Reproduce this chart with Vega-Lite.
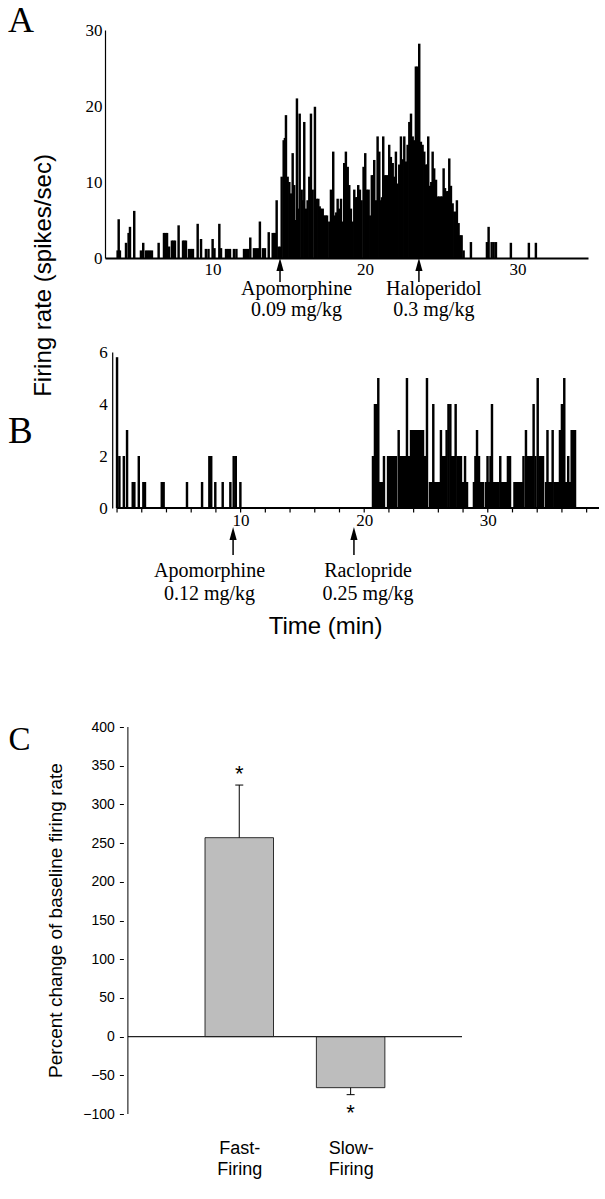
{
"$schema": "https://vega.github.io/schema/vega-lite/v6.json",
"autosize": {"type": "pad"},
"padding": {"left": 7, "top": 3, "right": 0, "bottom": 12},
"background": "white",
"spacing": 94,
"bounds": "flush",
"config": {"font": "Liberation Sans", "view": {"stroke": null}, "axis": {"grid": false, "domainColor": "black", "tickColor": "black", "labelColor": "black", "titleColor": "black", "labelFlush": false, "labelOverlap": false, "titleLimit": 1000}},
"datasets": {
"a": [
{"t":3.78,"r":1},{"t":3.85,"r":5.1},{"t":3.93,"r":1},{"t":4.33,"r":2},{"t":4.5,"r":3.3},{"t":4.59,"r":4.1},{"t":4.87,"r":6.2},{"t":5.31,"r":1},{"t":5.46,"r":2},{"t":5.64,"r":1},{"t":5.77,"r":1},{"t":5.9,"r":1},{"t":6.03,"r":1},{"t":6.47,"r":2},{"t":6.82,"r":3.3},{"t":6.92,"r":3.3},{"t":7.02,"r":3.3},{"t":7.15,"r":1.5},{"t":7.34,"r":2.3},{"t":7.44,"r":2.3},{"t":7.54,"r":2.3},{"t":7.78,"r":4.3},{"t":8.07,"r":2.3},{"t":8.16,"r":2.3},{"t":8.26,"r":2.3},{"t":8.46,"r":1.2},{"t":8.59,"r":1.2},{"t":8.72,"r":1.2},{"t":9.03,"r":4.5},{"t":9.25,"r":2.5},{"t":9.57,"r":1.2},{"t":9.74,"r":1.2},{"t":10.01,"r":2.5},{"t":10.13,"r":1.3},{"t":10.45,"r":4.5},{"t":10.56,"r":1.3},{"t":10.89,"r":1.2},{"t":11.02,"r":1.2},{"t":11.15,"r":1.2},{"t":11.41,"r":1.2},{"t":11.57,"r":1.2},{"t":12.07,"r":1.2},{"t":12.2,"r":1.2},{"t":12.33,"r":1.2},{"t":12.48,"r":2.7},{"t":12.72,"r":1.3},{"t":12.85,"r":1.3},{"t":12.98,"r":1.3},{"t":13.11,"r":4.8},{"t":13.31,"r":1.3},{"t":13.44,"r":1.3},{"t":13.69,"r":3.4},{"t":13.95,"r":3.3},{"t":14.03,"r":3.3},{"t":14.12,"r":3.3},{"t":14.21,"r":7.6},{"t":14.33,"r":1.5},{"t":14.43,"r":1.5},
{"t":14.54,"r":10.7},{"t":14.67,"r":15.5},{"t":14.75,"r":15.8},{"t":14.82,"r":18.8},{"t":14.93,"r":10.7},{"t":15.04,"r":10},{"t":15.15,"r":8.5},{"t":15.26,"r":13.8},{"t":15.36,"r":9.6},{"t":15.48,"r":5},{"t":15.54,"r":21},{"t":15.63,"r":6.5},{"t":15.72,"r":19},{"t":15.85,"r":9},{"t":15.91,"r":7.6},{"t":16.02,"r":17.9},{"t":16.13,"r":6.5},{"t":16.24,"r":7.6},{"t":16.35,"r":10.7},{"t":16.46,"r":19},{"t":16.57,"r":9},{"t":16.72,"r":19.9},{"t":16.83,"r":7.8},{"t":16.94,"r":7.8},{"t":17.03,"r":6.8},{"t":17.11,"r":6.5},{"t":17.23,"r":6.5},{"t":17.33,"r":5.6},{"t":17.42,"r":5.6},{"t":17.51,"r":5.6},{"t":17.66,"r":4.8},{"t":17.77,"r":9},{"t":17.92,"r":14},{"t":18.03,"r":5.6},{"t":18.12,"r":6},{"t":18.21,"r":7.8},{"t":18.31,"r":6.5},{"t":18.43,"r":7.8},{"t":18.54,"r":4.8},{"t":18.64,"r":12.5},{"t":18.75,"r":14},{"t":18.87,"r":12},{"t":18.97,"r":9.6},{"t":19.08,"r":6.5},{"t":19.19,"r":4.8},{"t":19.3,"r":9},{"t":19.41,"r":8},{"t":19.48,"r":8},{"t":19.56,"r":9.6},{"t":19.67,"r":9},{"t":19.78,"r":7.6},{"t":19.91,"r":12},{"t":20.02,"r":13.8},{"t":20.13,"r":9},{"t":20.24,"r":9},{"t":20.35,"r":5.6},{"t":20.45,"r":10.9},{"t":20.53,"r":10.9},{"t":20.61,"r":12.9},{"t":20.72,"r":7.6},{"t":20.83,"r":16},{"t":20.94,"r":14},{"t":21.05,"r":7.6},{"t":21.12,"r":8},{"t":21.2,"r":16},{"t":21.31,"r":10.9},{"t":21.4,"r":10.9},{"t":21.49,"r":10.9},{"t":21.59,"r":14.9},{"t":21.7,"r":13.3},{"t":21.82,"r":12.5},{"t":21.92,"r":10.7},{"t":22.03,"r":14},{"t":22.14,"r":9.8},{"t":22.25,"r":12.3},{"t":22.36,"r":16},{"t":22.47,"r":13},{"t":22.58,"r":16},{"t":22.69,"r":12.7},{"t":22.8,"r":14.9},{"t":22.91,"r":17.9},{"t":23.02,"r":19},{"t":23.13,"r":16},{"t":23.23,"r":15.5},{"t":23.34,"r":25.2},{"t":23.46,"r":25.2},{"t":23.56,"r":28.2},{"t":23.67,"r":15.3},{"t":23.78,"r":14.9},{"t":23.89,"r":14},{"t":24.0,"r":12.3},{"t":24.08,"r":12.3},{"t":24.15,"r":16},{"t":24.26,"r":9.5},{"t":24.35,"r":10},{"t":24.44,"r":14},{"t":24.54,"r":11.8},{"t":24.66,"r":10.3},{"t":24.77,"r":8.1},{"t":24.87,"r":8.1},{"t":24.98,"r":8.1},{"t":25.07,"r":8.1},{"t":25.16,"r":11.8},{"t":25.25,"r":9.2},{"t":25.38,"r":8.8},{"t":25.46,"r":8.8},{"t":25.53,"r":13.1},{"t":25.64,"r":9.5},{"t":25.75,"r":7.2},{"t":25.86,"r":6.1},{"t":25.95,"r":6.1},{"t":26.03,"r":7.6},{"t":26.14,"r":4.6},{"t":26.25,"r":3},{"t":26.34,"r":3},{"t":26.47,"r":1},{"t":26.95,"r":2.1},{"t":28.0,"r":2.1},{"t":28.11,"r":4.1},{"t":28.31,"r":2.1},{"t":28.44,"r":2.1},{"t":28.59,"r":2.1},{"t":29.57,"r":2},{"t":30.75,"r":2},{"t":31.21,"r":2}
],
"b": [
{"t":0.0,"r":5.8},{"t":0.19,"r":2},{"t":0.55,"r":2},{"t":0.81,"r":3},{"t":1.27,"r":1},{"t":1.4,"r":1},{"t":1.76,"r":2},{"t":2.13,"r":1},{"t":2.26,"r":1},{"t":3.62,"r":1},{"t":3.77,"r":1},{"t":5.66,"r":1},{"t":6.88,"r":1},{"t":7.47,"r":2},{"t":7.62,"r":2},{"t":7.95,"r":1},{"t":8.55,"r":1},{"t":9.17,"r":1},{"t":9.44,"r":2},{"t":9.61,"r":2},{"t":9.98,"r":1},
{"t":20.71,"r":2},{"t":20.87,"r":4},{"t":21.04,"r":4},{"t":21.14,"r":5},{"t":21.24,"r":1},{"t":21.36,"r":1},{"t":21.52,"r":1},{"t":21.6,"r":2},{"t":21.93,"r":2},{"t":22.09,"r":2},{"t":22.25,"r":2},{"t":22.41,"r":2},{"t":22.57,"r":2},{"t":22.79,"r":3},{"t":22.9,"r":2},{"t":23.06,"r":2},{"t":23.22,"r":2},{"t":23.3,"r":2},{"t":23.46,"r":5},{"t":23.62,"r":2},{"t":23.79,"r":3},{"t":23.95,"r":3},{"t":24.11,"r":3},{"t":24.27,"r":3},{"t":24.43,"r":3},{"t":24.6,"r":3},{"t":24.76,"r":3},{"t":24.92,"r":2},{"t":25.08,"r":5},{"t":25.32,"r":1},{"t":25.49,"r":1},{"t":25.59,"r":4},{"t":25.73,"r":1},{"t":25.89,"r":1},{"t":26.05,"r":1},{"t":26.21,"r":3},{"t":26.38,"r":2},{"t":26.54,"r":2},{"t":26.67,"r":3},{"t":26.82,"r":4},{"t":26.97,"r":4},{"t":27.1,"r":2},{"t":27.27,"r":2},{"t":27.4,"r":4},{"t":27.55,"r":2},{"t":27.67,"r":2},{"t":27.83,"r":2},{"t":27.99,"r":1},{"t":28.16,"r":2},{"t":28.32,"r":1},{"t":28.88,"r":1},{"t":29.0,"r":2},{"t":29.13,"r":3},{"t":29.29,"r":2},{"t":29.45,"r":1},{"t":29.61,"r":1},{"t":29.85,"r":1},{"t":29.98,"r":2},{"t":30.1,"r":1},{"t":30.22,"r":2},{"t":30.34,"r":4},{"t":30.5,"r":1},{"t":30.66,"r":1},{"t":30.83,"r":1},{"t":31.01,"r":2},{"t":31.15,"r":1},{"t":31.31,"r":1},{"t":31.47,"r":1},{"t":31.63,"r":2},{"t":31.8,"r":2},{"t":32.16,"r":1},{"t":32.28,"r":1},{"t":32.44,"r":1},{"t":32.61,"r":1},{"t":32.77,"r":1},{"t":32.89,"r":2},{"t":33.09,"r":3},{"t":33.25,"r":2},{"t":33.41,"r":2},{"t":33.58,"r":2},{"t":33.71,"r":4},{"t":33.86,"r":2},{"t":34.04,"r":5},{"t":34.18,"r":2},{"t":34.3,"r":2},{"t":34.47,"r":2},{"t":34.71,"r":1},{"t":34.83,"r":3},{"t":34.95,"r":1},{"t":35.11,"r":1},{"t":35.25,"r":3},{"t":35.4,"r":1},{"t":35.52,"r":1},{"t":35.68,"r":1},{"t":35.84,"r":3},{"t":36.0,"r":4},{"t":36.08,"r":4},{"t":36.19,"r":5},{"t":36.33,"r":1},{"t":36.51,"r":2},{"t":36.65,"r":1},{"t":36.79,"r":3},{"t":36.92,"r":3},{"t":37.06,"r":3}
],
"bTicks": [{"m":0},{"m":2},{"m":4},{"m":6},{"m":8},{"m":10},{"m":12},{"m":14},{"m":16},{"m":18},{"m":20},{"m":22},{"m":24},{"m":26},{"m":28},{"m":30},{"m":32},{"m":34},{"m":36},{"m":38}],
"annA": [
{"drug":"Apomorphine","dose":"0.09 mg/kg","arrow":14.43,"label":15.51},
{"drug":"Haloperidol","dose":"0.3 mg/kg","arrow":23.54,"label":24.52}
],
"annB": [
{"drug":"Apomorphine","dose":"0.12 mg/kg","arrow":9.39,"label":7.48},
{"drug":"Raclopride","dose":"0.25 mg/kg","arrow":19.17,"label":20.31}
],
"c": [
{"group":"Fast-Firing","pos":1,"mean":257,"err_end":325},
{"group":"Slow-Firing","pos":2,"mean":-66,"err_end":-75}
],
"starsC": [
{"pos":1,"y":330},
{"pos":2,"y":-108}
]
},
"vconcat": [
{
"width": 483, "height": 228,
"layer": [
{"data": {"name": "a"},
 "mark": {"type": "bar", "size": 2.45, "color": "black"},
 "encoding": {
  "x": {"field": "t", "type": "quantitative", "scale": {"domain": [3.28, 34.3], "nice": false, "zero": false},
        "axis": {"values": [10, 20, 30], "title": null, "ticks": false, "tickSize": 0, "labelPadding": 3, "labelOverlap": false, "labelFont": "Liberation Serif", "labelFontSize": 17, "domainWidth": 2}},
  "y": {"field": "r", "type": "quantitative", "scale": {"domain": [0, 30], "nice": false},
        "axis": {"values": [0, 10, 20, 30], "ticks": false, "tickSize": 0, "labelPadding": 3, "labelOverlap": false, "labelFont": "Liberation Serif", "labelFontSize": 17, "domainWidth": 1.2,
                 "title": "Firing rate (spikes/sec)", "titleFont": "Liberation Sans", "titleFontSize": 24, "titleFontWeight": "normal", "titleX": -55, "titleY": 245, "titleAngle": 270, "titleBaseline": "alphabetic", "titleAlign": "center"}}
 }},
{"data": {"name": "annA"},
 "mark": {"type": "rule", "strokeWidth": 1.5, "color": "black"},
 "encoding": {"x": {"field": "arrow", "type": "quantitative", "title": null}, "y": {"datum": -1.3, "title": "Firing rate (spikes/sec)"}, "y2": {"datum": -3.16}}},
{"data": {"name": "annA"},
 "mark": {"type": "point", "shape": "M0,-1L0.55,1L-0.55,1Z", "size": 169, "filled": true, "color": "black", "opacity": 1},
 "encoding": {"x": {"field": "arrow", "type": "quantitative", "title": null}, "y": {"datum": -0.86, "title": "Firing rate (spikes/sec)"}}},
{"data": {"name": "annA"},
 "mark": {"type": "text", "font": "Liberation Serif", "fontSize": 20, "baseline": "alphabetic", "align": "center", "color": "black"},
 "encoding": {"x": {"field": "label", "type": "quantitative", "title": null}, "y": {"datum": -4.87, "title": "Firing rate (spikes/sec)"}, "text": {"field": "drug"}}},
{"data": {"name": "annA"},
 "mark": {"type": "text", "font": "Liberation Serif", "fontSize": 20, "baseline": "alphabetic", "align": "center", "color": "black"},
 "encoding": {"x": {"field": "label", "type": "quantitative", "title": null}, "y": {"datum": -7.63, "title": "Firing rate (spikes/sec)"}, "text": {"field": "dose"}}},
{"data": {"values": [{}]},
 "mark": {"type": "text", "text": "A", "font": "Liberation Serif", "fontSize": 36, "baseline": "top", "align": "left", "color": "black"},
 "encoding": {"x": {"datum": -3.41, "title": null}, "y": {"datum": 33.42, "title": "Firing rate (spikes/sec)"}}}
]
},
{
"width": 499, "height": 156,
"layer": [
{"data": {"name": "b"},
 "mark": {"type": "bar", "size": 2.45, "color": "black"},
 "encoding": {
  "x": {"field": "t", "type": "quantitative", "scale": {"domain": [-0.57, 39], "nice": false, "zero": false},
        "axis": {"values": [10, 20, 30], "labelOverlap": false, "domain": false, "ticks": false, "tickSize": 0, "labelPadding": 4, "labelFont": "Liberation Serif", "labelFontSize": 17,
                 "title": "Time (min)", "titleFont": "Liberation Sans", "titleFontSize": 24, "titleFontWeight": "normal", "titleX": 220, "titleY": 125, "titleBaseline": "alphabetic", "titleAlign": "center"}},
  "y": {"field": "r", "type": "quantitative", "scale": {"domain": [0, 6], "nice": false},
        "axis": {"values": [0, 2, 4, 6], "offset": -7.2, "ticks": false, "tickSize": 0, "labelPadding": 5, "labelOverlap": false, "labelFont": "Liberation Serif", "labelFontSize": 17, "domainWidth": 1.2, "title": null}}
 }},
{"data": {"name": "bTicks"},
 "mark": {"type": "rule", "strokeWidth": 1.2, "color": "black"},
 "encoding": {"x": {"field": "m", "type": "quantitative", "title": "Time (min)"}, "y": {"datum": 0, "title": null}, "y2": {"datum": -0.17}}},
{"data": {"values": [{}]},
 "mark": {"type": "rule", "strokeWidth": 2, "color": "black"},
 "encoding": {"x": {"datum": 0, "title": "Time (min)"}, "x2": {"datum": 39}, "y": {"datum": 0, "title": null}}},
{"data": {"name": "annB"},
 "mark": {"type": "rule", "strokeWidth": 1.5, "color": "black"},
 "encoding": {"x": {"field": "arrow", "type": "quantitative", "title": "Time (min)"}, "y": {"datum": -1.15, "title": null}, "y2": {"datum": -1.81}}},
{"data": {"name": "annB"},
 "mark": {"type": "point", "shape": "M0,-1L0.55,1L-0.55,1Z", "size": 169, "filled": true, "color": "black", "opacity": 1},
 "encoding": {"x": {"field": "arrow", "type": "quantitative", "title": "Time (min)"}, "y": {"datum": -0.98, "title": null}}},
{"data": {"name": "annB"},
 "mark": {"type": "text", "font": "Liberation Serif", "fontSize": 20, "baseline": "alphabetic", "align": "center", "color": "black"},
 "encoding": {"x": {"field": "label", "type": "quantitative", "title": "Time (min)"}, "y": {"datum": -2.65, "title": null}, "text": {"field": "drug"}}},
{"data": {"name": "annB"},
 "mark": {"type": "text", "font": "Liberation Serif", "fontSize": 20, "baseline": "alphabetic", "align": "center", "color": "black"},
 "encoding": {"x": {"field": "label", "type": "quantitative", "title": "Time (min)"}, "y": {"datum": -3.52, "title": null}, "text": {"field": "dose"}}},
{"data": {"values": [{}]},
 "mark": {"type": "text", "text": "B", "font": "Liberation Serif", "fontSize": 37, "baseline": "top", "align": "left", "color": "black"},
 "encoding": {"x": {"datum": -8.82, "title": "Time (min)"}, "y": {"datum": 3.63, "title": null}}}
]
},
{
"width": 362, "height": 512,
"layer": [
{"data": {"name": "c"},
 "mark": {"type": "bar", "size": 68.5, "fill": "#bdbdbd", "stroke": "black", "strokeWidth": 0.8},
 "encoding": {
  "x": {"field": "pos", "type": "quantitative", "scale": {"domain": [-0.1607, 3], "nice": false, "zero": false},
        "axis": {"values": [1, 2], "labelExpr": "datum.value == 1 ? ['Fast-', 'Firing'] : ['Slow-', 'Firing']", "labelOverlap": false, "domain": false, "ticks": false, "tickSize": 0, "labelPadding": 25, "labelFont": "Liberation Sans", "labelFontSize": 18, "labelLineHeight": 21, "title": null}},
  "y": {"field": "mean", "type": "quantitative", "scale": {"domain": [-100, 561.5], "nice": false},
        "axis": {"values": [-100, -50, 0, 50, 100, 150, 200, 250, 300, 350, 400], "labelOverlap": false, "offset": -18.4, "domain": false, "ticks": true, "tickSize": 4, "labelPadding": 5, "labelFont": "Liberation Sans", "labelFontSize": 14,
                 "title": "Percent change of baseline firing rate", "titleFont": "Liberation Sans", "titleFontSize": 19, "titleFontWeight": "normal", "titleX": -62, "titleY": 318, "titleAngle": 270, "titleBaseline": "alphabetic", "titleAlign": "center"}},
  "y2": {"datum": 0}
 }},
{"data": {"name": "c"},
 "mark": {"type": "rule", "strokeWidth": 1, "color": "black"},
 "encoding": {"x": {"field": "pos", "type": "quantitative", "title": null}, "y": {"field": "mean", "type": "quantitative", "title": "Percent change of baseline firing rate"}, "y2": {"field": "err_end"}}},
{"data": {"name": "c"},
 "mark": {"type": "tick", "orient": "horizontal", "size": 8, "thickness": 1, "color": "black", "opacity": 1},
 "encoding": {"x": {"field": "pos", "type": "quantitative", "title": null}, "y": {"field": "err_end", "type": "quantitative", "title": "Percent change of baseline firing rate"}}},
{"data": {"values": [{}]},
 "mark": {"type": "rule", "strokeWidth": 1.2, "color": "#222"},
 "encoding": {"x": {"datum": 0, "title": null}, "x2": {"datum": 3}, "y": {"datum": 0, "title": "Percent change of baseline firing rate"}}},
{"data": {"values": [{}]},
 "mark": {"type": "rule", "strokeWidth": 1, "color": "black"},
 "encoding": {"x": {"datum": 0, "title": null}, "y": {"datum": -100, "title": "Percent change of baseline firing rate"}, "y2": {"datum": 400}}},
{"data": {"name": "starsC"},
 "mark": {"type": "text", "text": "*", "font": "Liberation Sans", "fontSize": 22, "baseline": "alphabetic", "align": "center", "color": "black"},
 "encoding": {"x": {"field": "pos", "type": "quantitative", "title": null}, "y": {"field": "y", "type": "quantitative", "title": "Percent change of baseline firing rate"}}},
{"data": {"values": [{}]},
 "mark": {"type": "text", "text": "C", "font": "Liberation Serif", "fontSize": 33, "baseline": "top", "align": "left", "color": "black"},
 "encoding": {"x": {"datum": -1.071, "title": null}, "y": {"datum": 403.9, "title": "Percent change of baseline firing rate"}}}
]
}
]
}
